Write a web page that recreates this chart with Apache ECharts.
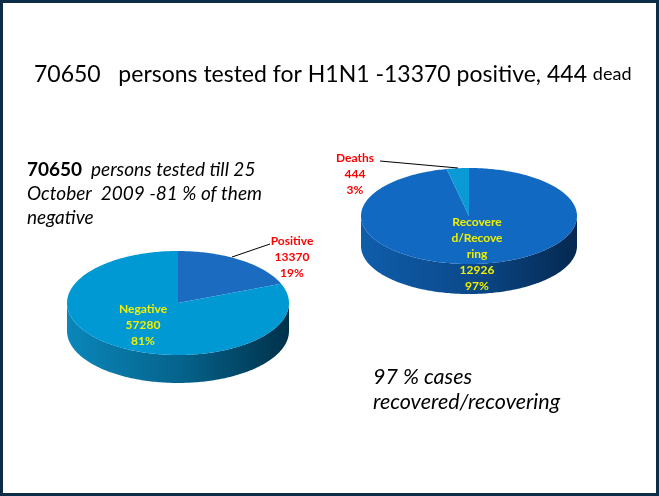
<!DOCTYPE html>
<html>
<head>
<meta charset="utf-8">
<script src="https://cdn.jsdelivr.net/npm/echarts@6/dist/echarts.min.js"></script>
<style>
html, body { margin: 0; padding: 0; background: #fff; }
#main { width: 659px; height: 496px; }
</style>
</head>
<body>
<div id="main"></div>
<script>
// tested persons, split by result
var testNames = ['Positive', 'Negative'];
var testValues = [13370, 57280];
// positive cases, split by outcome
var outcomeNames = ['Recovered/Recovering', 'Deaths'];
var outcomeValues = [12926, 444];

var FONT = 'Lato, "Open Sans", sans-serif';

function sum(arr) {
    return arr.reduce(function (a, b) { return a + b; }, 0);
}
function pct(v, arr) {
    return Math.round(v / sum(arr) * 100) + '%';
}

// fake 3d pie: elliptic top face + shaded front rim, angles from the data
function pie3d(name, values, cfg) {
    var total = sum(values);
    return {
        type: 'custom',
        name: name,
        coordinateSystem: 'none',
        data: values.map(function (v, i) { return [v, i]; }),
        renderItem: function (params, api) {
            var i = params.dataIndex;
            var start = 0;
            for (var k = 0; k < i; k++) start += values[k];
            var a0 = start / total * Math.PI * 2;
            var a1 = (start + api.value(0)) / total * Math.PI * 2;
            var pt = function (a, dy) {
                return [cfg.cx + cfg.rx * Math.sin(a), cfg.cy - cfg.ry * Math.cos(a) + (dy || 0)];
            };
            var step = Math.PI / 180;
            var top = [[cfg.cx, cfg.cy]];
            for (var a = a0; a < a1; a += step) top.push(pt(a));
            top.push(pt(a1));
            var children = [];
            var s = Math.max(a0, Math.PI / 2), e = Math.min(a1, Math.PI * 1.5);
            if (s < e) {
                var side = [];
                for (var b = s; b < e; b += step) side.push(pt(b));
                side.push(pt(e));
                for (var c = e; c > s; c -= step) side.push(pt(c, cfg.depth));
                side.push(pt(s, cfg.depth));
                children.push({
                    type: 'polygon',
                    shape: { points: side },
                    style: {
                        fill: new echarts.graphic.LinearGradient(
                            cfg.cx - cfg.rx, 0, cfg.cx + cfg.rx, 0, cfg.sides[i], true)
                    }
                });
            }
            children.push({
                type: 'polygon',
                shape: { points: top },
                style: { fill: cfg.colors[i] }
            });
            return { type: 'group', children: children };
        }
    };
}

var leftPie = {
    cx: 178, cy: 303, rx: 111, ry: 52, depth: 28,
    colors: ['#1b6cc1', '#0099d4'],
    sides: [
        [{ offset: 0, color: '#10559a' }, { offset: 1, color: '#06284d' }],
        [{ offset: 0, color: '#0a86ba' }, { offset: 0.5, color: '#05648d' }, { offset: 1, color: '#00314a' }]
    ]
};
var rightPie = {
    cx: 469, cy: 216, rx: 108, ry: 48, depth: 30,
    colors: ['#1169c1', '#0a9ad6'],
    sides: [
        [{ offset: 0, color: '#0f5dab' }, { offset: 0.5, color: '#0b4a8b' }, { offset: 1, color: '#052850' }],
        [{ offset: 0, color: '#0a86ba' }, { offset: 1, color: '#00314a' }]
    ]
};

var labelBase = {
    fontFamily: FONT, fontWeight: 'bold', fontSize: 12,
    lineHeight: 16, align: 'center', verticalAlign: 'top'
};
function label(x, y, text, color) {
    return {
        type: 'text', x: x, y: y, z: 10,
        style: Object.assign({ text: text, fill: color }, labelBase)
    };
}
function leader(points) {
    return {
        type: 'polyline', z: 10,
        shape: { points: points },
        style: { stroke: '#000', lineWidth: 1, fill: null }
    };
}
function spacedPct(v, arr) {
    return pct(v, arr).replace('%', ' %');
}

var totalTested = sum(testValues);
var chart = echarts.init(document.getElementById('main'));
chart.setOption({
    animation: false,
    title: {
        text: '{a|' + totalTested + '   persons tested for H1N1 -' + testValues[0] +
              ' positive, ' + outcomeValues[1] + ' }{b|dead}',
        left: 29, top: 58,
        textStyle: {
            fontWeight: 'normal',
            rich: {
                a: { fontFamily: FONT, fontSize: 23, fontWeight: 'normal', color: '#000' },
                b: { fontFamily: FONT, fontSize: 18, fontWeight: 'normal', color: '#000' }
            }
        }
    },
    graphic: [
        {
            type: 'rect', z: 20,
            shape: { x: 1.5, y: 1.5, width: 656, height: 493 },
            style: { fill: null, stroke: '#0c2d48', lineWidth: 3 }
        },
        {
            type: 'text', x: 27, y: 158,
            style: {
                text: '{b|' + totalTested + '}{i|  persons tested till 25}\n' +
                      '{i|October  2009 -' + spacedPct(testValues[1], testValues) + ' of them}\n{i|negative}',
                rich: {
                    b: { fontFamily: FONT, fontSize: 19, fontWeight: 'bold', lineHeight: 24, fill: '#000' },
                    i: { fontFamily: FONT, fontSize: 19, fontStyle: 'italic', lineHeight: 24, fill: '#000' }
                }
            }
        },
        {
            type: 'text', x: 373, y: 365,
            style: {
                text: spacedPct(outcomeValues[0], outcomeValues) + ' cases\nrecovered/recovering',
                fontFamily: FONT, fontSize: 21.5, fontStyle: 'italic', lineHeight: 25, fill: '#000'
            }
        },
        label(143, 301, testNames[1] + '\n' + testValues[1] + '\n' + pct(testValues[1], testValues), '#f0f000'),
        label(292, 233, testNames[0] + '\n' + testValues[0] + '\n' + pct(testValues[0], testValues), '#ff0000'),
        leader([[232, 257], [270, 244]]),
        label(355, 150, outcomeNames[1] + '\n' + outcomeValues[1] + '\n' + pct(outcomeValues[1], outcomeValues), '#ff0000'),
        leader([[380, 161], [458, 168]]),
        label(477, 214, outcomeNames[0].match(/.{1,8}/g).join('\n') + '\n' + outcomeValues[0] + '\n' +
              pct(outcomeValues[0], outcomeValues), '#f0f000')
    ],
    series: [
        pie3d('tested', testValues, leftPie),
        pie3d('positive', outcomeValues, rightPie)
    ]
});
</script>
</body>
</html>
